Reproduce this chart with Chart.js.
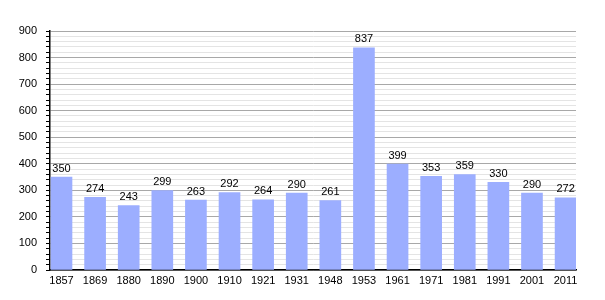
<!DOCTYPE html>
<html>
<head>
<meta charset="utf-8">
<script src="https://cdn.jsdelivr.net/npm/chart.js@4/dist/chart.umd.min.js"></script>
<style>
  body { margin: 0; background: #fff; }
  #wrap { width: 605px; height: 300px; }
</style>
</head>
<body>
<div id="wrap"><canvas id="pop" width="605" height="300"></canvas></div>
<script>
// years of census and population
var years = ["1857","1869","1880","1890","1900","1910","1921","1931","1948","1953","1961","1971","1981","1991","2001","2011"];
var population = [350,274,243,299,263,292,264,290,261,837,399,353,359,330,290,272];
var yMax = 900;

// draws the value above each bar
var valueLabels = {
    id: "valueLabels",
    afterDatasetsDraw: function(chart) {
        var ctx = chart.ctx;
        var meta = chart.getDatasetMeta(0);
        ctx.save();
        ctx.font = "11px 'Liberation Sans', Arial, sans-serif";
        ctx.fillStyle = "#000";
        ctx.textAlign = "center";
        ctx.textBaseline = "bottom";
        meta.data.forEach(function(bar, i) {
            ctx.fillText(population[i], bar.x, bar.y - 3);
        });
        ctx.restore();
    }
};

Chart.defaults.font.family = "'Liberation Sans', Arial, sans-serif";
Chart.defaults.font.size = 11;
Chart.defaults.color = "#000";

new Chart(document.getElementById("pop"), {
    type: "bar",
    data: {
        datasets: [{
            data: population.map(function(v, i) { return {x: i, y: v}; }),
            backgroundColor: "#9caeff",
            borderWidth: 0,
            barThickness: 21
        }]
    },
    options: {
        responsive: false,
        animation: false,
        layout: { padding: { top: 31, right: 29, left: 0, bottom: 0 } },
        plugins: { legend: { display: false }, tooltip: { enabled: false } },
        scales: {
            x: {
                type: "linear",
                offset: false,
                min: -0.342,
                max: 15.31,
                afterBuildTicks: function(scale) {
                    scale.ticks = years.map(function(y, i) { return {value: i}; });
                },
                afterFit: function(scale) { scale.height = 30; },
                grid: { display: false, drawTicks: false, offset: false },
                border: { display: true, color: "#000", width: 1.5 },
                ticks: {
                    autoSkip: false,
                    maxRotation: 0,
                    padding: 4,
                    callback: function(v) { return years[v]; }
                }
            },
            y: {
                min: 0,
                max: yMax,
                afterFit: function(scale) { scale.width = 50; },
                border: { display: true, color: "#000", width: 1.5 },
                grid: {
                    color: function(c) { return c.tick && c.tick.value % 100 === 0 ? "#a8a8a8" : "#e4e4e4"; },
                    tickColor: "#000",
                    tickLength: 4
                },
                ticks: {
                    stepSize: 20,
                    autoSkip: false,
                    padding: 9,
                    callback: function(v) { return v % 100 === 0 ? v : ""; }
                }
            }
        }
    },
    plugins: [valueLabels]
});
</script>
</body>
</html>
